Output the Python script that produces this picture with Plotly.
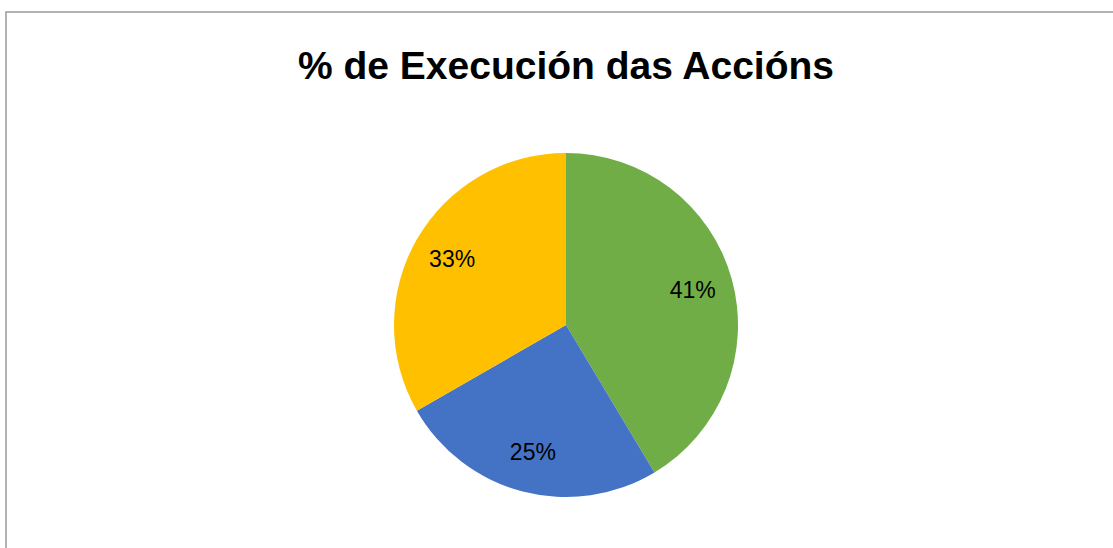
import plotly.graph_objects as go

# Data
categories = ["Executadas", "En curso", "Pendentes"]
values = [41.4, 25.3, 33.3]
colors = ["#70AD47", "#4472C4", "#FFC000"]
title_text = "% de Execución das Accións"

W, H = 1113, 548
cx, cy, r = 566, 325, 172
dom = dict(x=[(cx - r) / W, (cx + r) / W], y=[(H - cy - r) / H, (H - cy + r) / H])

fig = go.Figure()
# visible slices
fig.add_trace(go.Pie(
    labels=categories,
    values=values,
    marker=dict(colors=colors, line=dict(width=0)),
    sort=False,
    direction="clockwise",
    rotation=0,
    textinfo="none",
    showlegend=False,
    hoverinfo="label+percent",
    domain=dom,
))
# transparent ring carrying the data labels further out (like Excel's best-fit)
fig.add_trace(go.Pie(
    labels=categories,
    values=values,
    marker=dict(colors=["rgba(0,0,0,0)"] * len(values), line=dict(width=0)),
    hole=0.53,
    sort=False,
    direction="clockwise",
    rotation=0,
    textinfo="percent",
    texttemplate="%{percent:.0%}",
    textposition="inside",
    insidetextorientation="horizontal",
    textfont=dict(family="Liberation Sans", size=23, color="#000000"),
    showlegend=False,
    hoverinfo="skip",
    domain=dom,
))

fig.update_layout(
    width=W, height=H,
    margin=dict(l=0, r=0, t=0, b=0),
    paper_bgcolor="white",
    plot_bgcolor="white",
    title=dict(
        text="<b>" + title_text + "</b>",
        x=566 / W, xanchor="center",
        y=1 - 65 / H, yanchor="middle",
        font=dict(family="Liberation Sans", size=39, color="#000000"),
    ),
    shapes=[dict(
        type="rect", xref="paper", yref="paper",
        x0=6 / W, x1=1.05, y0=-0.05, y1=1 - 12 / H,
        line=dict(color="#9a9a9a", width=1.5),
        fillcolor="rgba(0,0,0,0)", layer="below",
    )],
)

fig.write_html("out.html", config={"displayModeBar": False},
               post_script="document.body.style.margin='0';")
